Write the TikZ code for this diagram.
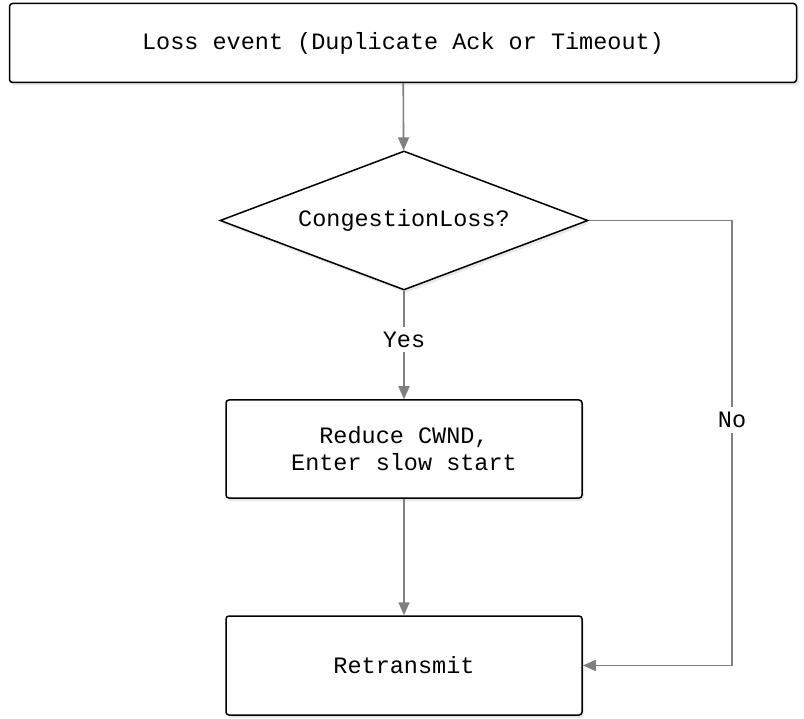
\documentclass[tikz,border=0pt]{standalone}
\usepackage{fontspec}
\setmonofont{Liberation Mono}
\usetikzlibrary{shapes.geometric,arrows.meta,shadows}

\begin{document}
\begin{tikzpicture}[x=1pt, y=-1pt,
    font=\ttfamily\fontsize{23.5}{27}\selectfont,
    stepbox/.style={draw=black, line width=1.5pt, rounded corners=3pt, fill=white, align=center,
        drop shadow={shadow xshift=2pt, shadow yshift=-3pt, opacity=0.18}},
    decision/.style={diamond, draw=black, line width=1.5pt, fill=white, inner sep=0pt, aspect=2.65,
        minimum width=368pt, minimum height=139pt,
        drop shadow={shadow xshift=2pt, shadow yshift=-3pt, opacity=0.18}},
    flow/.style={draw=gray, line width=1.6pt, -{Triangle[length=13pt,width=11pt]}},
    lbl/.style={fill=white, inner sep=5pt}]
    \useasboundingbox (0,0) rectangle (804,719);

    % Boxes
    \node[stepbox, minimum width=787pt, minimum height=79pt] (loss) at (403,43) {Loss event (Duplicate Ack or Timeout)};
    \node[decision] (dec) at (404,220.5) {CongestionLoss?};
    \node[stepbox, minimum width=356pt, minimum height=98pt] (reduce) at (404,449) {Reduce CWND,\\Enter slow start};
    \node[stepbox, minimum width=356pt, minimum height=99pt] (retx) at (404,665.5) {Retransmit};

    % Corner of the No branch
    \coordinate (nocorner) at (732,220.5);

    % Connectors
    \draw[flow] (loss) -- (dec);
    \draw[flow] (dec.south) -- node[lbl, pos=0.45] {Yes} (reduce);
    \draw[flow] (reduce) -- (retx);
    \draw[flow] (dec.east) -- (nocorner) |- node[lbl, pos=0.224] {No} (retx.east);
\end{tikzpicture}
\end{document}
